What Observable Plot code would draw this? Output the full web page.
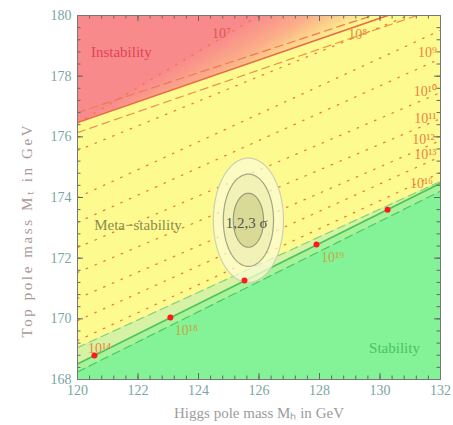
<!DOCTYPE html>
<html><head><meta charset="utf-8">
<script src="https://cdn.jsdelivr.net/npm/d3@7"></script>
<script src="https://cdn.jsdelivr.net/npm/@observablehq/plot@0.6"></script>
<style>body{margin:0;background:#fff;} svg{display:block}</style>
</head><body><div id="chart"></div>
<script>
// ---- data ----
const xTickLabels = [120,122,124,126,128,130,132];
const yTickLabels = [168,170,172,174,176,178,180];
const edgeMh = [120, 132];
// boundary lines: Mt at Mh=120 and Mh=132
const instabilityMt = [176.47, 180.60];
const instabilityUpperMt = [176.80, 180.74];
const instabilityLowerMt = [176.14, 180.27];
const stabilityMt = [168.51, 174.47];
const stabilityUpperMt = [169.05, 174.53];
const stabilityLowerMt = [168.25, 174.21];
// dotted Λ contours: Mt at Mh=120 and Mh=132
const contourLeftMt  = [176.45, 175.55, 174.00, 173.18, 172.35, 171.53, 170.67, 169.94, 169.28];
const contourRightMt = [183.55, 180.43, 179.51, 178.58, 177.46, 176.60, 175.88, 175.35, 174.82];
// contour labels
const contourLabels = ["10⁷","10⁸","10⁹","10¹⁰","10¹¹","10¹²","10¹³","10¹⁶","10¹⁸","10¹⁹","10¹⁴"];
const contourLabelMh = [124.76, 129.26, 131.57, 131.5, 131.5, 131.44, 131.5, 131.37, 123.6, 128.43, 120.73];
const contourLabelMt = [179.41, 179.37, 178.78, 177.49, 176.6, 175.91, 175.42, 174.46, 169.61, 172.02, 169.02];
// points on the stability line
const pointMh = [120.56, 123.07, 125.52, 127.9, 130.25];
const pointMt = [168.79, 170.04, 171.26, 172.45, 173.6];
// experimental ellipses (1,2,3 sigma)
const ellipseCenter = [125.65, 173.25];
const ellipseSemiMh = [1.16, 0.83, 0.5];
const ellipseSemiMt = [2.05, 1.52, 0.89];
// region labels
const regionLabels = ["Instability", "Meta−stability", "Stability"];
const regionMh = [121.45, 122.0, 130.48];
const regionMt = [178.78, 173.08, 169.02];
const xTitle = "Higgs pole mass Mₕ in GeV";
const yTitle = "Top pole mass Mₜ in GeV";

// ---- derived tables ----
const lineRows = mt => edgeMh.map((mh, i) => ({mh, mt: mt[i]}));
const contours = contourLeftMt.flatMap((l, k) => [{k, mh: 120, mt: l}, {k, mh: 132, mt: contourRightMt[k]}]);
const ellipses = ellipseSemiMh.map((a, i) => d3.range(0, 361, 3).map(t => ({
  mh: ellipseCenter[0] + a * Math.cos(t * Math.PI / 180),
  mt: ellipseCenter[1] + ellipseSemiMt[i] * Math.sin(t * Math.PI / 180)
})));
const bands = edgeMh.map((mh, i) => ({mh, inst: instabilityMt[i], stab: stabilityMt[i], stabU: stabilityUpperMt[i], stabL: stabilityLowerMt[i]}));
const pts = pointMh.map((mh, i) => ({mh, mt: pointMt[i]}));
const clabels = contourLabels.map((t, i) => ({t, mh: contourLabelMh[i], mt: contourLabelMt[i]}));
const rlabels = regionLabels.map((t, i) => ({t, mh: regionMh[i], mt: regionMt[i]}));
const xMinor = d3.range(0, 31).map(i => 120 + i * 0.4);
const yMinor = d3.range(0, 31).map(i => 168 + i * 0.4);

const W = 453, H = 425, mT = 15, mR = 13, mB = 46, mL = 77;
const iW = W - mL - mR, iH = H - mT - mB;
const YELLOW = "#fdfb8f", GREEN = "#84f296", RED = "#f98a8c";
const tickCol = "#666";

const plot = Plot.plot({
  width: W, height: H,
  marginTop: mT, marginRight: mR, marginBottom: mB, marginLeft: mL,
  x: {domain: [120, 132], axis: null},
  y: {domain: [168, 180], axis: null},
  style: {fontFamily: "'Liberation Serif', 'Times New Roman', serif", fontSize: "14px", background: "white"},
  marks: [
    Plot.frame({fill: YELLOW, stroke: null}),
    Plot.areaY(bands, {x: "mh", y1: "inst", y2: 182, fill: "url(#redFade)", clip: true}),
    Plot.areaY(bands, {x: "mh", y1: "stab", y2: "stabU", fill: "#d6f2a4", clip: true}),
    Plot.areaY(bands, {x: "mh", y1: "stabL", y2: "stab", fill: "#a6f39c", clip: true}),
    Plot.areaY(bands, {x: "mh", y1: 167, y2: "stabL", fill: GREEN, clip: true}),
    Plot.line(contours, {x: "mh", y: "mt", z: "k", stroke: "#f07a3c", strokeWidth: 1.3, strokeDasharray: "1.5,8", clip: true}),
    Plot.line(lineRows(instabilityUpperMt), {x: "mh", y: "mt", stroke: "#ec7a55", strokeWidth: 1.2, strokeDasharray: "8,5", clip: true}),
    Plot.line(lineRows(instabilityLowerMt), {x: "mh", y: "mt", stroke: "#f0904a", strokeWidth: 1.2, strokeDasharray: "8,5", clip: true}),
    Plot.line(lineRows(instabilityMt), {x: "mh", y: "mt", stroke: "#e86a4a", strokeWidth: 1.6, clip: true}),
    Plot.line(lineRows(stabilityUpperMt), {x: "mh", y: "mt", stroke: "#8ad27a", strokeWidth: 1.2, strokeDasharray: "8,5", clip: true}),
    Plot.line(lineRows(stabilityLowerMt), {x: "mh", y: "mt", stroke: "#4cc860", strokeWidth: 1.2, strokeDasharray: "8,5", clip: true}),
    Plot.line(lineRows(stabilityMt), {x: "mh", y: "mt", stroke: "#4ec45e", strokeWidth: 1.6, clip: true}),
    Plot.line(ellipses[0], {x: "mh", y: "mt", fill: "#fbfbd2", fillOpacity: 0.75, stroke: "#cfcfb4", strokeWidth: 1.2}),
    Plot.line(ellipses[1], {x: "mh", y: "mt", fill: "#eeeeb2", fillOpacity: 0.7, stroke: "#a4a486", strokeWidth: 1.2}),
    Plot.line(ellipses[2], {x: "mh", y: "mt", fill: "#d2d28c", fillOpacity: 0.75, stroke: "#9a9a7c", strokeWidth: 1.2}),
    Plot.text(["1,2,3 σ"], {x: ellipseCenter[0] - 0.06, y: ellipseCenter[1] - 0.11, fill: "#555548", fontSize: 15}),
    Plot.dot(pts, {x: "mh", y: "mt", r: 3, fill: "#ff1a1a", stroke: null}),
    Plot.text(clabels, {x: "mh", y: "mt", text: "t", fill: (d, i) => i >= 8 && i <= 9 ? "#c4a844" : (i === 0 ? "#e0584e" : "#ec8440"), fontSize: 14, clip: true}),
    Plot.text(rlabels, {x: "mh", y: "mt", text: "t", fill: (d, i) => ["#e2444e", "#8a8a4e", "#48c462"][i], fontSize: 15}),
    // ticks (inward, all four sides)
    Plot.tickX(xMinor, {x: d => d, insetTop: iH - 3.5, stroke: tickCol}),
    Plot.tickX(xMinor, {x: d => d, insetBottom: iH - 3.5, stroke: tickCol}),
    Plot.tickX(xTickLabels, {x: d => d, insetTop: iH - 6, stroke: tickCol}),
    Plot.tickX(xTickLabels, {x: d => d, insetBottom: iH - 6, stroke: tickCol}),
    Plot.tickY(yMinor, {y: d => d, insetRight: iW - 3.5, stroke: tickCol}),
    Plot.tickY(yMinor, {y: d => d, insetLeft: iW - 3.5, stroke: tickCol}),
    Plot.tickY(yTickLabels, {y: d => d, insetRight: iW - 6, stroke: tickCol}),
    Plot.tickY(yTickLabels, {y: d => d, insetLeft: iW - 6, stroke: tickCol}),
    Plot.frame({stroke: "#777", strokeWidth: 1}),
    // tick labels
    Plot.text(xTickLabels, {x: d => d, frameAnchor: "bottom", dy: 15, text: d => String(d), fill: "#7aa5a5", fontSize: 14}),
    Plot.text(yTickLabels, {y: d => d, frameAnchor: "left", dx: -6, textAnchor: "end", text: d => String(d), fill: "#7aa5a5", fontSize: 14}),
    // axis titles (start-anchored so the stretched length stays where it belongs)
    Plot.text([xTitle], {frameAnchor: "bottom", dx: -85, dy: 38, textAnchor: "start", fill: "#9c9c9c", fontSize: 15}),
    Plot.text([yTitle], {frameAnchor: "left", dx: -50, dy: 140, textAnchor: "start", rotate: -90, fill: "#a89a9a", fontSize: 15})
  ]
});

// stretch the axis titles to the reference widths
d3.select(plot).selectAll("text").filter(function() { return this.textContent === yTitle; })
  .attr("textLength", 212).attr("lengthAdjust", "spacing");
d3.select(plot).selectAll("text").filter(function() { return this.textContent === xTitle; })
  .attr("textLength", 170).attr("lengthAdjust", "spacing");

// gradient for the instability region (isolines parallel to the 10^7 contour)
const sx = plot.scale("x"), sy = plot.scale("y");
const L1 = mh => contourLeftMt[0] + (contourRightMt[0] - contourLeftMt[0]) * (mh - 120) / 12;
const ax = sx.apply(120), ay = sy.apply(L1(120)), bx = sx.apply(132), by = sy.apply(L1(132));
let dx = bx - ax, dy = by - ay; const len = Math.hypot(dx, dy); dx /= len; dy /= len;
const nx = -dy, ny = dx; // perpendicular, pointing down-right
const p0x = sx.apply(123.5), p0y = sy.apply(L1(123.5));
const grad = d3.select(plot).insert("defs", ":first-child").append("linearGradient")
  .attr("id", "redFade").attr("gradientUnits", "userSpaceOnUse")
  .attr("x1", p0x).attr("y1", p0y).attr("x2", p0x + 60 * nx).attr("y2", p0y + 60 * ny);
grad.append("stop").attr("offset", 0).attr("stop-color", RED);
grad.append("stop").attr("offset", 0.45).attr("stop-color", "#fbae88");
grad.append("stop").attr("offset", 1).attr("stop-color", YELLOW);

document.getElementById("chart").append(plot);
</script>
</body></html>
